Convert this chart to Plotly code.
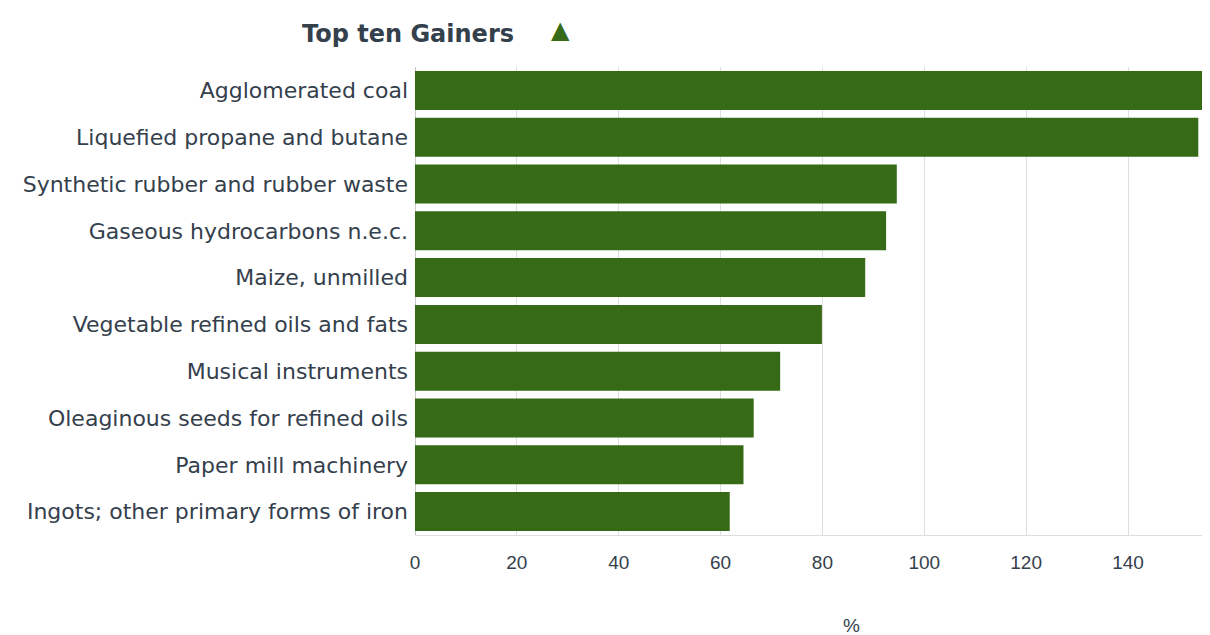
import plotly.graph_objects as go

categories = [
    "Agglomerated coal",
    "Liquefied propane and butane",
    "Synthetic rubber and rubber waste",
    "Gaseous hydrocarbons n.e.c.",
    "Maize, unmilled",
    "Vegetable refined oils and fats",
    "Musical instruments",
    "Oleaginous seeds for refined oils",
    "Paper mill machinery",
    "Ingots; other primary forms of iron",
]
values = [158.0, 153.8, 94.6, 92.5, 88.4, 79.9, 71.7, 66.5, 64.5, 61.8]
x_ticks = [0, 20, 40, 60, 80, 100, 120, 140]

# page renders the figure offset by (8, 8) px
OFF = 8
W, H = 1210, 627
L, T = 414.5 - OFF, 67 - OFF
R = W - (1210 - OFF)
B = H - (534.6 - OFF)
PW, PH = W - L - R, H - T - B


def px(sx):
    return (sx - OFF - L) / PW


def py(sy):
    return 1 - (sy - OFF - T) / PH


fig = go.Figure(go.Bar(
    x=values, y=categories, orientation="h",
    marker=dict(color="#376a16", line=dict(width=0)),
))

font_col = "#34404c"
fig.update_layout(
    width=W, height=H,
    margin=dict(l=L, r=R, t=T, b=B, autoexpand=False),
    plot_bgcolor="white", paper_bgcolor="white",
    bargap=0.166,
    showlegend=False,
    font=dict(family="Liberation Sans, Arial, sans-serif", size=16, color=font_col),
)
fig.update_xaxes(
    range=[0, 156.1], tickvals=x_ticks, ticktext=[str(v) for v in x_ticks],
    showgrid=True, gridcolor="#dedede", gridwidth=1,
    zeroline=True, zerolinecolor="#c8c8c8", zerolinewidth=1,
    showline=True, linecolor="#dedede", linewidth=1,
    ticks="", ticklabelstandoff=10,
    tickfont=dict(family="Liberation Sans, Arial, sans-serif", size=19, color=font_col),
)
fig.update_yaxes(
    autorange="reversed", showgrid=False, zeroline=False,
    ticks="", ticklabelstandoff=6,
    tickfont=dict(family="DejaVu Sans, sans-serif", size=22, color=font_col),
)
fig.add_annotation(
    text="<b>Top ten Gainers</b>", xref="paper", yref="paper",
    x=px(407), y=py(34),
    xanchor="center", yanchor="middle", showarrow=False,
    font=dict(family="DejaVu Sans, sans-serif", size=24, color=font_col),
)
fig.add_annotation(
    text="▲", xref="paper", yref="paper",
    x=px(560), y=py(30),
    xanchor="center", yanchor="middle", showarrow=False,
    font=dict(family="DejaVu Sans, sans-serif", size=24, color="#376a16"),
)
fig.add_annotation(
    text="%", xref="paper", yref="paper",
    x=px(851), y=py(625),
    xanchor="center", yanchor="middle", showarrow=False,
    font=dict(family="Liberation Sans, Arial, sans-serif", size=19, color=font_col),
)
fig.write_html("out.html")
